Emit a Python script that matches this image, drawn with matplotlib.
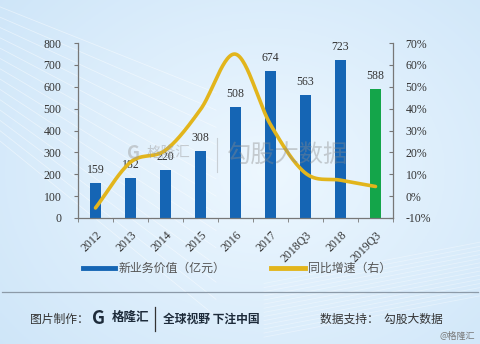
import numpy as np
import matplotlib
matplotlib.use("Agg")
import matplotlib.pyplot as plt
from matplotlib.lines import Line2D

# data
periods = ["2012", "2013", "2014", "2015", "2016", "2017", "2018Q3", "2018", "2019Q3"]
nbv = [159, 182, 220, 308, 508, 674, 563, 723, 588]          # 新业务价值（亿元）
growth = [-5.4, 15.5, 21.0, 39.6, 64.9, 32.7, 10.5, 7.3, 4.4]  # 同比增速（%）

left_ticks = [0, 100, 200, 300, 400, 500, 600, 700, 800]
right_ticks = [-10, 0, 10, 20, 30, 40, 50, 60, 70]

BLUE = "#1565b4"
GREEN = "#14a54a"
GOLD = "#e2b51c"
TXT = "#333333"
SERIF = "Liberation Serif"
FS = 8.5

plt.rcParams["font.family"] = ["Noto Sans CJK SC", "DejaVu Sans"]


def catmull_rom(xs, ys, n=30):
    # smooth curve through the points, only for drawing
    px = np.concatenate([[2 * xs[0] - xs[1]], xs, [2 * xs[-1] - xs[-2]]])
    py = np.concatenate([[2 * ys[0] - ys[1]], ys, [2 * ys[-1] - ys[-2]]])
    out_x, out_y = [], []
    t = np.linspace(0, 1, n, endpoint=False)
    for i in range(1, len(px) - 2):
        for arr, out in ((px, out_x), (py, out_y)):
            p0, p1, p2, p3 = arr[i - 1], arr[i], arr[i + 1], arr[i + 2]
            out.extend(0.5 * ((2 * p1) + (-p0 + p2) * t
                              + (2 * p0 - 5 * p1 + 4 * p2 - p3) * t ** 2
                              + (-p0 + 3 * p1 - 3 * p2 + p3) * t ** 3))
    out_x.append(xs[-1])
    out_y.append(ys[-1])
    return np.array(out_x), np.array(out_y)


fig = plt.figure(figsize=(4.8, 3.44), dpi=100)

# light blue background
bg = fig.add_axes([0, 0, 1, 1], zorder=-10)
yy, xx = np.mgrid[0:1:200j, 0:1:200j]
shade = 0.55 * np.sqrt((xx - 0.55) ** 2 + ((yy - 0.5) * 0.9) ** 2)
c0 = np.array([0.93, 0.97, 1.0])
c1 = np.array([0.74, 0.86, 0.96])
img = c0 + (c1 - c0) * np.clip(shade, 0, 1)[..., None] * 1.6
bg.imshow(np.clip(img, 0, 1), extent=[0, 1, 0, 1], aspect="auto", origin="lower")
for k in range(14):
    s = np.linspace(0, 1, 60)
    bg.plot(s * 0.45, 0.98 - 0.03 * k - s * (0.25 + 0.02 * k), color="white", lw=0.6, alpha=0.45)
    bg.plot(0.55 + s * 0.45, 0.02 + 0.012 * k + s * 0.12, color="white", lw=0.6, alpha=0.35)
bg.set_xlim(0, 1)
bg.set_ylim(0, 1)
bg.axis("off")

ax = fig.add_axes([78 / 480, 126 / 344, 315 / 480, 175 / 344])
ax.patch.set_alpha(0)
x = np.arange(len(periods))
colors = [BLUE] * (len(periods) - 1) + [GREEN]
ax.bar(x, nbv, width=0.31, color=colors, zorder=2)
for xi, v in zip(x, nbv):
    ax.text(xi, v + 32, str(v), ha="center", va="bottom", fontsize=FS,
            family=SERIF, color=TXT)

ax.set_xlim(-0.5, len(periods) - 0.5)
ax.set_ylim(0, 800)
ax.set_yticks(left_ticks)
ax.set_yticklabels([str(t) for t in left_ticks], family=SERIF, fontsize=FS, color=TXT)
ax.set_xticks(x)
ax.set_xticklabels(periods, rotation=45, ha="right", rotation_mode="anchor",
                   family=SERIF, fontsize=FS, color=TXT)
ax.tick_params(axis="x", length=0, pad=8)
ax.set_xticks(np.arange(-0.5, len(periods), 1), minor=True)
ax.tick_params(axis="x", which="minor", length=3, color="#777777")
ax.tick_params(axis="y", length=3, color="#777777", pad=9)
for side in ["top", "right"]:
    ax.spines[side].set_visible(False)
for side in ["left", "bottom"]:
    ax.spines[side].set_color("#777777")
    ax.spines[side].set_linewidth(0.9)

ax2 = ax.twinx()
ax2.set_ylim(-10, 70)
ax2.set_yticks(right_ticks)
ax2.set_yticklabels([f"{t}%" for t in right_ticks], family=SERIF, fontsize=FS, color=TXT)
ax2.tick_params(axis="y", direction="in", length=3, color="#777777", pad=9)
for side in ["top", "left", "bottom"]:
    ax2.spines[side].set_visible(False)
ax2.spines["right"].set_color("#777777")
ax2.spines["right"].set_linewidth(0.9)
sx, sy = catmull_rom(x.astype(float), np.array(growth, dtype=float))
ax2.plot(sx, sy, color=GOLD, lw=2.6, solid_capstyle="round", zorder=3)

# watermark
fig.text(0.265, 0.555, "G", fontsize=13, color="#9a9a9a", alpha=0.45, fontweight="bold",
         ha="left", va="center")
fig.text(0.305, 0.555, "格隆汇", fontsize=10.5, color="#9a9a9a", alpha=0.45, ha="left", va="center")
fig.add_artist(Line2D([0.452, 0.452], [0.50, 0.60], color="#999999", alpha=0.4, lw=0.8))
fig.text(0.472, 0.548, "勾股大数据", fontsize=17.5, color="#8a8a8a", alpha=0.4, ha="left", va="center")

# legend
fig.add_artist(Line2D([83 / 480, 115 / 480], [1 - 268 / 344] * 2, color=BLUE, lw=3.5))
fig.text(119 / 480, 1 - 268 / 344, "新业务价值（亿元）", fontsize=8.6, color="#555555", va="center")
fig.add_artist(Line2D([271 / 480, 305 / 480], [1 - 268 / 344] * 2, color=GOLD, lw=3.5))
fig.text(308 / 480, 1 - 268 / 344, "同比增速（右）", fontsize=8.6, color="#555555", va="center")

# footer
fig.add_artist(Line2D([2 / 480, 478 / 480], [1 - 292 / 344] * 2, color="#8c9aa8", lw=0.9))
fy = 1 - 319 / 344
fig.text(30 / 480, fy, "图片制作：", fontsize=8.5, color="#333333", va="center")
fig.text(92 / 480, fy, "G", fontsize=13, color="#1d2b3a", fontweight="bold", va="center")
fig.text(112 / 480, fy + 0.004, "格隆汇", fontsize=9, color="#1d2b3a", fontweight="bold", va="center")
fig.add_artist(Line2D([155 / 480] * 2, [fy - 0.035, fy + 0.035], color="#333333", lw=0.9))
fig.text(163 / 480, fy, "全球视野 下注中国", fontsize=8.5, color="#1d2b3a", fontweight="bold", va="center")
fig.text(320 / 480, fy, "数据支持：  勾股大数据", fontsize=8.5, color="#333333", va="center")
fig.text(475 / 480, 1 - 336 / 344, "@格隆汇", fontsize=6.5, color="#777777", ha="right", va="center")

fig.savefig("out.png", dpi=100)
